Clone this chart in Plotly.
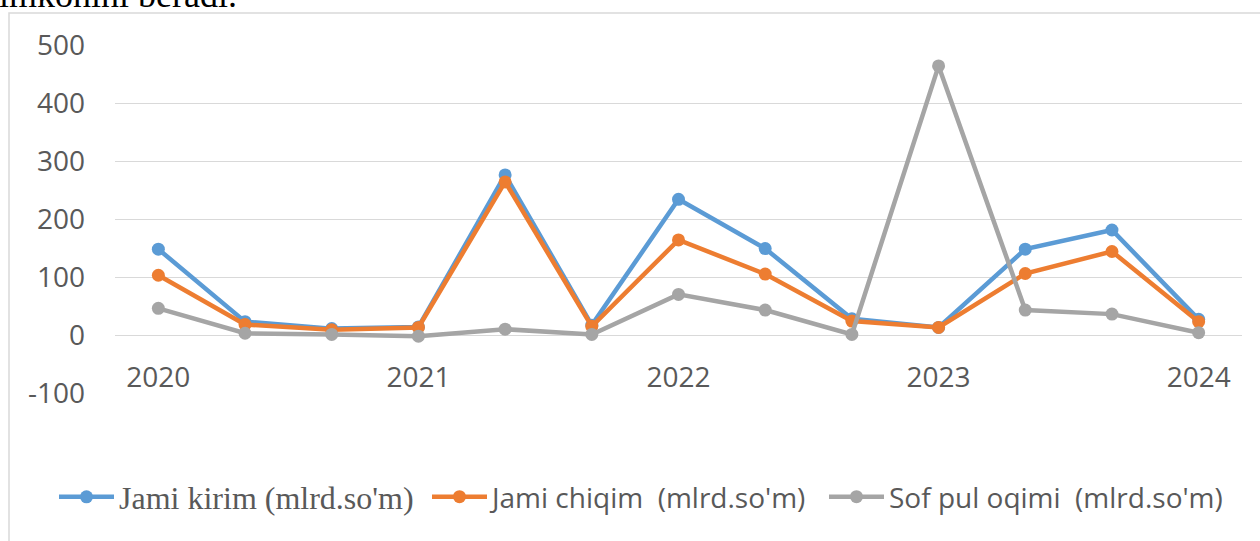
import plotly.graph_objects as go

# ---- data ----
periods = list(range(13))
year_positions = [0, 3, 6, 9, 12]
year_labels = ["2020", "2021", "2022", "2023", "2024"]

jami_kirim = [148, 23, 11, 14, 276, 17, 234, 149, 28, 13, 148, 181, 27]
jami_chiqim = [103, 18, 9, 13, 264, 15, 164, 105, 24, 13, 106, 144, 23]
sof_pul = [46, 3, 1, -2, 10, 1, 70, 43, 1, 464, 43, 36, 4]

y_ticks = [-100, 0, 100, 200, 300, 400, 500]
y_tick_labels = ["-100", "0", "100", "200", "300", "400", "500"]

names = [
    "Jami kirim (mlrd.so'm)",
    "Jami chiqim  (mlrd.so'm)",
    "Sof pul oqimi  (mlrd.so'm)",
]
colors = ["#5B9BD5", "#ED7D31", "#A5A5A5"]
series = [jami_kirim, jami_chiqim, sof_pul]
legend_ids = ["legend", "legend2", "legend3"]

W, H = 1260, 541
L, R, T, B = 115, 18, 45, 148
PW, PH = W - L - R, H - T - B

fig = go.Figure()
for name, col, vals, lg in zip(names, colors, series, legend_ids):
    fig.add_trace(go.Scatter(
        x=periods, y=vals, name=name, mode="lines+markers",
        line=dict(color=col, width=4.5),
        marker=dict(color=col, size=13, line=dict(width=0)),
        legend=lg, showlegend=True,
    ))

def legend_cfg(px, family, size):
    return dict(
        xref="container", yref="container",
        x=px / W, y=1 - 497 / H, xanchor="left", yanchor="middle",
        orientation="h", bgcolor="rgba(0,0,0,0)",
        font=dict(family=family, size=size, color="#595959"),
        itemwidth=55,
    )

fig.update_layout(
    width=W, height=H,
    showlegend=True,
    margin=dict(l=L, r=R, t=T, b=B),
    paper_bgcolor="white", plot_bgcolor="white",
    xaxis=dict(
        range=[-0.5, 12.5],
        tickvals=year_positions, ticktext=year_labels,
        showgrid=False, zeroline=False, showline=False, ticks="",
        anchor="free", position=100 / 600,
        ticklabelstandoff=23,
        tickfont=dict(family="Open Sans", size=28, color="#595959"),
    ),
    yaxis=dict(
        range=[-100, 500], tickvals=y_ticks, ticktext=y_tick_labels,
        showgrid=True, gridcolor="#D9D9D9", gridwidth=1.3,
        zeroline=False, showline=False, ticks="",
        ticklabelstandoff=29,
        tickfont=dict(family="Open Sans", size=28, color="#595959"),
    ),
    legend=legend_cfg(54, "Liberation Serif", 32),
    legend2=legend_cfg(427, "Open Sans", 28),
    legend3=legend_cfg(824, "Open Sans", 28),
    shapes=[dict(
        type="rect", xref="paper", yref="paper",
        x0=(9 - L) / PW, x1=1.2, y0=-0.6, y1=(H - B - 13) / PH,
        line=dict(color="#D9D9D9", width=1.5), fillcolor="rgba(0,0,0,0)",
        layer="below",
    )],
    annotations=[dict(
        text="imkonini beradi.", xref="paper", yref="paper",
        x=(-3 - L) / PW, y=(H - B - 17) / PH, xanchor="left", yanchor="bottom",
        showarrow=False,
        font=dict(family="Liberation Serif", size=36, color="black"),
    )],
)

fig.write_html(
    "out.html",
    config={"displayModeBar": False},
    post_script="document.body.style.margin='0';document.body.style.overflow='hidden';",
)
